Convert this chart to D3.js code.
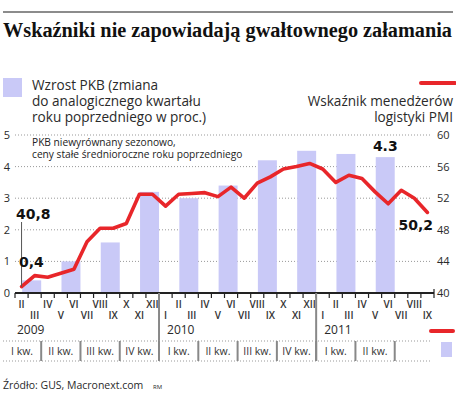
<!DOCTYPE html>
<html>
<head>
<meta charset="utf-8">
<script src="https://cdn.jsdelivr.net/npm/d3@7"></script>
<style>
  body { margin: 0; background: #fff; }
  svg { display: block; }
  text { font-family: "Open Sans", "Noto Sans", sans-serif; fill: #2a2a2a; }
</style>
</head>
<body>
<svg width="456" height="398"></svg>
<script>
// months shown on the axis (Feb 2009 - Sep 2011)
const monthLabels = ["II","III","IV","V","VI","VII","VIII","IX","X","XI","XII",
  "I","II","III","IV","V","VI","VII","VIII","IX","X","XI","XII",
  "I","II","III","IV","V","VI","VII","VIII","IX"];
// PMI logistics managers index, monthly
const pmiValues = [40.8,42.2,42.0,42.5,43.0,46.5,48.2,48.2,48.8,52.5,52.5,
  51.0,52.5,52.6,52.7,52.2,53.4,52.0,53.9,54.7,55.7,56.0,56.4,
  55.7,54.0,54.9,54.5,52.8,51.3,53.0,52.0,50.2];
const yearLabels = ["2009","2010","2011"];
const quarterLabels = ["I kw.","II kw.","III kw.","IV kw.","I kw.","II kw.","III kw.","IV kw.","I kw.","II kw.",""];
// GDP growth y/y, quarterly
const gdpValues = [0.4,1.0,1.6,3.2,3.0,3.4,4.2,4.5,4.4,4.3];
const leftTicks = [0,1,2,3,4,5];
const rightTicks = [40,44,48,52,56,60];

const svg = d3.select("svg");
const roman = ["I","II","III","IV","V","VI","VII","VIII","IX","X","XI","XII"];

const x = d3.scaleLinear().domain([0, monthLabels.length]).range([15, 434]);
const yL = d3.scaleLinear().domain([0, 5]).range([293, 135]);
const yR = d3.scaleLinear().domain([40, 60]).range([293, 135]);
const mw = x(1) - x(0);

// top rule + title
svg.append("line").attr("x1", 3).attr("x2", 453).attr("y1", 12).attr("y2", 12)
  .attr("stroke", "#666").attr("stroke-width", 1.5);
svg.append("text").attr("x", 3).attr("y", 37)
  .attr("textLength", 449).attr("lengthAdjust", "spacingAndGlyphs")
  .style("font-family", "'Liberation Serif', serif").style("font-weight", "bold").style("font-size", "20px")
  .style("fill", "#111")
  .text("Wskaźniki nie zapowiadają gwałtownego załamania");

// legend
svg.append("rect").attr("x", 3).attr("y", 78).attr("width", 19).attr("height", 19).attr("fill", "#c9c9f7");
["Wzrost PKB (zmiana", "do analogicznego kwartału", "roku poprzedniego w proc.)"].forEach((t, i) => {
  svg.append("text").attr("x", 32).attr("y", 90 + i * 16).style("font-size", "13.6px").text(t);
});
svg.append("line").attr("x1", 421).attr("x2", 455).attr("y1", 83).attr("y2", 83)
  .attr("stroke", "#e8262a").attr("stroke-width", 4).attr("stroke-linecap", "round");
["Wskaźnik menedżerów", "logistyki PMI"].forEach((t, i) => {
  svg.append("text").attr("x", 453).attr("y", 106 + i * 16).attr("text-anchor", "end")
    .style("font-size", "13.6px").text(t);
});

// grid
svg.append("g").selectAll("line").data(leftTicks.slice(1)).join("line")
  .attr("x1", 15).attr("x2", 432)
  .attr("y1", d => yL(d)).attr("y2", d => yL(d))
  .attr("stroke", "#999").attr("stroke-width", 1).attr("stroke-dasharray", "1,2");

svg.append("g").selectAll("text").data(leftTicks).join("text")
  .attr("x", 7).attr("y", d => yL(d) + 4).attr("text-anchor", "middle")
  .style("font-size", "11px").text(d => d);
svg.append("g").selectAll("text").data(rightTicks).join("text")
  .attr("x", 437).attr("y", d => yR(d) + 4)
  .style("font-size", "11px").text(d => d);

// note
["PKB niewyrównany sezonowo,", "ceny stałe średnioroczne roku poprzedniego"].forEach((t, i) => {
  svg.append("text").attr("x", 32).attr("y", 146 + i * 12).style("font-size", "10.2px").style("fill", "#222").text(t);
});

// quarters: first shown month decides where quarters end
const offset = roman.indexOf(monthLabels[0]);
const quarters = quarterLabels.map((label, q) => {
  const end = Math.min(3 * (q + 1) - offset, monthLabels.length);
  return { label, start: end - 3, end, value: gdpValues[q] };
});

// bars
svg.append("g").selectAll("rect").data(quarters.filter(d => d.value != null)).join("rect")
  .attr("x", d => x(d.end) - mw * 1.45)
  .attr("width", mw * 1.45)
  .attr("y", d => yL(d.value))
  .attr("height", d => yL(0) - yL(d.value))
  .attr("fill", "#c9c9f7");

// PMI line
const line = d3.line().x((d, i) => x(i + 0.5)).y(d => yR(d));
svg.append("path").datum(pmiValues).attr("d", line)
  .attr("fill", "none").attr("stroke", "#e8262a").attr("stroke-width", 3.6)
  .attr("stroke-linejoin", "round").attr("stroke-linecap", "round");

// axis
svg.append("line").attr("x1", x(0)).attr("x2", x(monthLabels.length)).attr("y1", 293).attr("y2", 293)
  .attr("stroke", "#222").attr("stroke-width", 2);
svg.append("g").selectAll("line").data(d3.range(monthLabels.length + 1)).join("line")
  .attr("x1", d => x(d)).attr("x2", d => x(d)).attr("y1", 293).attr("y2", 298)
  .attr("stroke", "#222").attr("stroke-width", 1.2);
svg.append("line").attr("x1", x(monthLabels.length)).attr("x2", x(monthLabels.length))
  .attr("y1", 289).attr("y2", 293).attr("stroke", "#222").attr("stroke-width", 1.2);

// month labels
svg.append("g").selectAll("text").data(monthLabels).join("text")
  .attr("x", (d, i) => x(i + 0.5))
  .attr("y", d => roman.indexOf(d) % 2 === 1 ? 308 : 319)
  .attr("text-anchor", "middle").style("font-size", "10px").style("font-weight", 600).style("fill", "#333")
  .text(d => d);

// years
const yearStarts = monthLabels.map((d, i) => i).filter(i => i === 0 || monthLabels[i] === "I");
svg.append("g").selectAll("text").data(yearLabels).join("text")
  .attr("x", (d, i) => x(yearStarts[i]) + (i === 0 ? 2 : 8)).attr("y", 334)
  .style("font-size", "12px").text(d => d);
svg.append("g").selectAll("line").data(yearStarts.slice(1)).join("line")
  .attr("x1", d => x(d)).attr("x2", d => x(d)).attr("y1", 293).attr("y2", 361)
  .attr("stroke", "#888").attr("stroke-width", 2);

// quarter row
[341, 361].forEach(yy => {
  svg.append("line").attr("x1", 3).attr("x2", 432).attr("y1", yy).attr("y2", yy)
    .attr("stroke", "#999").attr("stroke-dasharray", "1,2");
});
svg.append("g").selectAll("line").data(quarters.slice(0, -1)).join("line")
  .attr("x1", d => x(d.end)).attr("x2", d => x(d.end)).attr("y1", 341).attr("y2", 361)
  .attr("stroke", "#888").attr("stroke-width", 2);
svg.append("g").selectAll("text").data(quarters).join("text")
  .attr("x", d => (Math.max(x(d.start), 3) + x(d.end)) / 2).attr("y", 355)
  .attr("text-anchor", "middle").style("font-size", "10.5px").style("fill", "#333")
  .text(d => d.label);

// bottom legend keys
svg.append("line").attr("x1", 431).attr("x2", 453).attr("y1", 331).attr("y2", 331)
  .attr("stroke", "#e8262a").attr("stroke-width", 4).attr("stroke-linecap", "round");
svg.append("rect").attr("x", 441).attr("y", 342).attr("width", 11).attr("height", 15).attr("fill", "#c9c9f7");

// value labels
const bold = sel => sel.style("font-family", "'DejaVu Sans', sans-serif").style("font-weight", "bold")
  .style("font-size", "14px").style("fill", "#111");
svg.append("line").attr("x1", x(0.5)).attr("x2", x(0.5)).attr("y1", 222).attr("y2", yR(pmiValues[0]))
  .attr("stroke", "#555").attr("stroke-width", 1);
svg.append("text").attr("x", 16).attr("y", 219).call(bold).text("40,8");
svg.append("text").attr("x", 19).attr("y", 267).call(bold).text("0,4");
svg.append("text").attr("x", x(quarters[9].end) - mw * 0.72).attr("y", 151).attr("text-anchor", "middle")
  .call(bold).text("4.3");
svg.append("text").attr("x", 433).attr("y", 230).attr("text-anchor", "end").call(bold).text("50,2");

// source
svg.append("text").attr("x", 3).attr("y", 389).style("font-size", "10.5px").text("Źródło: GUS, Macronext.com");
svg.append("text").attr("x", 153).attr("y", 389).style("font-size", "6px").text("RM");
</script>
</body>
</html>
